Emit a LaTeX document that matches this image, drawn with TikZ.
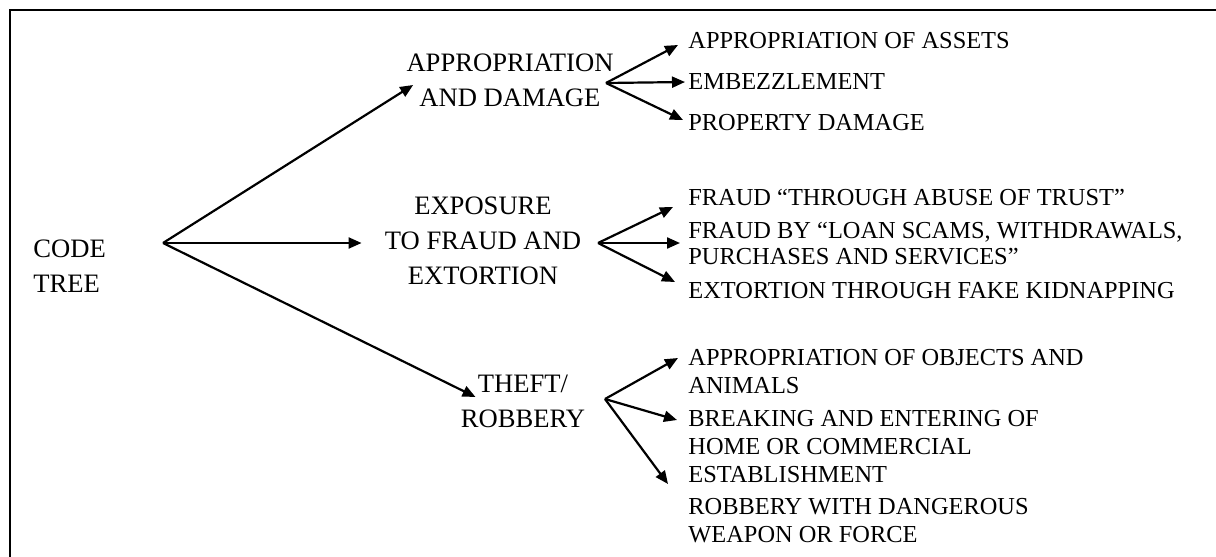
\documentclass[tikz,border=0pt]{standalone}
\usepackage{fontspec}
\setmainfont{Liberation Serif}
\usetikzlibrary{arrows.meta}
\tikzset{ % Common styles, so we don't repeat ourselves
	branch/.style={font=\fontsize{13.3}{17.5}\selectfont, align=center, inner sep=0pt},
	leaf/.style={font=\fontsize{12.2}{14}\selectfont, align=left, anchor=west, inner sep=0pt},
	arr/.style={line width=1.1pt, -{Triangle[length=6.5pt,width=5.5pt]}}
}

\begin{document}
\begin{tikzpicture}[x=0.5pt,y=-0.5pt]
		\useasboundingbox (0,0) rectangle (1216,557);
		% Frame
		\draw [line width=0.9pt] (10,557) |- (1216,10);
		% Nodes
		\node [branch, align=left, anchor=west] (tree) at (33,266.5) {CODE\\TREE};
		\node [branch] (damage) at (510,80) {APPROPRIATION\\AND DAMAGE};
		\node [branch] (exposure) at (483,241) {EXPOSURE\\TO FRAUD AND\\EXTORTION};
		\node [branch] (theft) at (523,401) {THEFT/\\ROBBERY};
		\node [leaf] (assets) at (688,41) {APPROPRIATION OF ASSETS};
		\node [leaf] (embezzle) at (688,82) {EMBEZZLEMENT};
		\node [leaf] (propdamage) at (688,123) {PROPERTY DAMAGE};
		\node [leaf] (trust) at (688,197) {FRAUD “THROUGH ABUSE OF TRUST”};
		\node [leaf, font=\fontsize{12.2}{13}\selectfont] (loans) at (688,244) {FRAUD BY “LOAN SCAMS, WITHDRAWALS,\\PURCHASES AND SERVICES”};
		\node [leaf] (kidnap) at (688,291) {EXTORTION THROUGH FAKE KIDNAPPING};
		\node [leaf] (objects) at (688,371.5) {APPROPRIATION OF OBJECTS AND\\ANIMALS};
		\node [leaf] (breaking) at (688,446.5) {BREAKING AND ENTERING OF\\HOME OR COMMERCIAL\\ESTABLISHMENT};
		\node [leaf] (weapon) at (688,520.5) {ROBBERY WITH DANGEROUS\\WEAPON OR FORCE};
		% Forks
		\coordinate (treefork) at (163,243);
		\coordinate (damagefork) at (606,83);
		\coordinate (exposurefork) at (598,243);
		\coordinate (theftfork) at (605,399);
		% Arrows
		\draw [arr] (treefork) -- ([xshift=3.5pt,yshift=-2.5pt]damage.west);
		\draw [arr] (treefork) -- ([xshift=-11.5pt,yshift=-1pt]exposure.west);
		\draw [arr] (treefork) -- ([xshift=7.5pt,yshift=2pt]theft.west);
		\draw [arr] (damagefork) -- ([xshift=-5pt,yshift=-2pt]assets.west);
		\draw [arr] (damagefork) -- ([xshift=-1.5pt]embezzle.west);
		\draw [arr] (damagefork) -- ([xshift=-2.5pt,yshift=1.5pt]propdamage.west);
		\draw [arr] (exposurefork) -- ([xshift=-7.5pt,yshift=-5pt]trust.west);
		\draw [arr] (exposurefork) -- ([xshift=-4pt,yshift=0.5pt]loans.west);
		\draw [arr] (exposurefork) -- ([xshift=-6.5pt,yshift=4.5pt]kidnap.west);
		\draw [arr] (theftfork) -- ([xshift=-5pt,yshift=6.75pt]objects.west);
		\draw [arr] (theftfork) -- ([xshift=-5.5pt,yshift=13.25pt]breaking.west);
		\draw [arr] (theftfork) -- ([xshift=-10pt,yshift=18.25pt]weapon.west);
\end{tikzpicture}
\end{document}
